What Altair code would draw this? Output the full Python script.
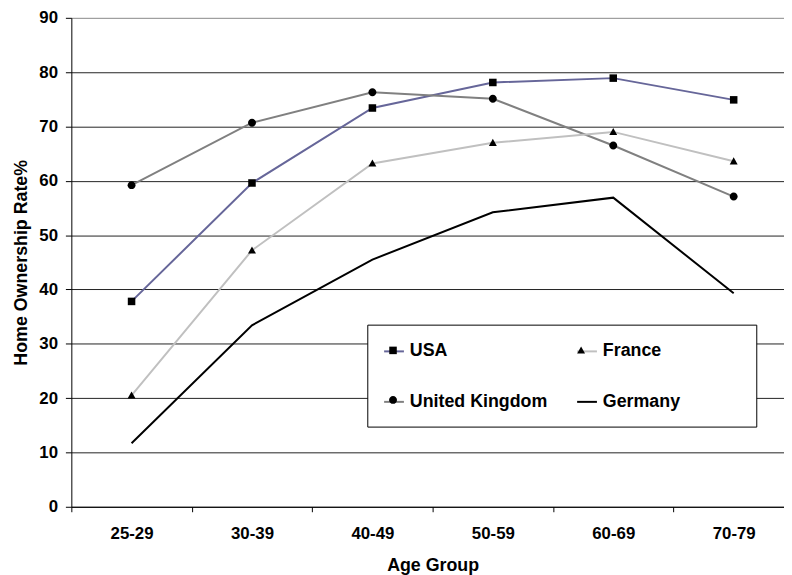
import altair as alt
import pandas as pd

age_groups = ["25-29", "30-39", "40-49", "50-59", "60-69", "70-79"]
countries = ["USA", "United Kingdom", "France", "Germany"]
usa = [37.8, 59.6, 73.4, 78.1, 78.9, 74.9]
france = [20.5, 47.2, 63.2, 67.0, 69.0, 63.6]
uk = [59.2, 70.7, 76.3, 75.1, 66.5, 57.1]
germany = [11.7, 33.4, 45.5, 54.2, 56.9, 39.3]
y_ticks = [0, 10, 20, 30, 40, 50, 60, 70, 80, 90]

line_colors = ["#666699", "#808080", "#C0C0C0", "#000000"]
marker_paths = [
    "M-0.38,-0.38H0.38V0.38H-0.38Z",
    "M-0.4,0A0.4,0.4,0,1,1,0.4,0A0.4,0.4,0,1,1,-0.4,0Z",
    "M0,-0.4L0.4,0.32L-0.4,0.32Z",
    "M0,0L0,0",
]

series = {"USA": usa, "France": france, "United Kingdom": uk, "Germany": germany}
rows = []
for c in countries:
    for a, v in zip(age_groups, series[c]):
        rows.append({"Age": a, "Country": c, "Series": c + " ", "Rate": v})
df = pd.DataFrame(rows)

FONT = "Liberation Sans"
PAD = "\u00a0" * 12 + "\u200b"
label_expr = f"trim(datum.label) == 'Germany' ? 'Germany{PAD}' : trim(datum.label)"

x_enc = alt.X(
    "Age:N",
    sort=age_groups,
    scale=alt.Scale(type="band", domain=age_groups, range=[0, 730], paddingInner=0, paddingOuter=0),
    axis=alt.Axis(
        title="Age Group", tickBand="extent", grid=False, labelAngle=0,
        tickSize=5, labelPadding=14, titlePadding=15,
        domainColor="#000000", tickColor="#000000",
        labelFont=FONT, labelFontSize=17, labelFontWeight="bold", labelColor="#000000",
        titleFont=FONT, titleFontSize=18, titleFontWeight="bold", titleColor="#000000",
    ),
)
y_enc = alt.Y(
    "Rate:Q",
    scale=alt.Scale(domain=[0, 90], nice=False),
    axis=alt.Axis(
        title="Home Ownership Rate%", values=y_ticks, grid=True,
        gridColor={"condition": {"test": "datum.value === 90", "value": "#888888"}, "value": "#222222"},
        gridWidth=1, tickSize=6, labelPadding=8, titlePadding=8,
        domainColor="#000000", tickColor="#000000",
        labelFont=FONT, labelFontSize=17, labelFontWeight="bold", labelColor="#000000",
        titleFont=FONT, titleFontSize=18, titleFontWeight="bold", titleColor="#000000",
    ),
)

legend_common = dict(
    title=None, orient="none", legendX=299, legendY=310, columns=2, gridAlign="all",
    columnPadding=26, rowPadding=31, padding=16, symbolSize=400, labelOffset=5,
    labelFont=FONT, labelFontSize=18, labelFontWeight="bold", labelColor="#000000",
    labelLimit=300, labelExpr=label_expr,
)

lines = alt.Chart(df).mark_line(strokeWidth=2).encode(
    x=x_enc,
    y=y_enc,
    color=alt.Color(
        "Country:N",
        scale=alt.Scale(domain=countries, range=line_colors),
        legend=alt.Legend(
            symbolType="stroke", symbolStrokeWidth=2, fillColor="#ffffff",
            strokeColor="#000000", zindex=0, **legend_common,
        ),
    ),
)

points = alt.Chart(df).mark_point(filled=True, size=400, color="#000000", opacity=1, strokeWidth=0).encode(
    x=x_enc,
    y=y_enc,
    shape=alt.Shape(
        "Series:N",
        scale=alt.Scale(domain=[c + " " for c in countries], range=marker_paths),
        legend=alt.Legend(
            symbolFillColor="#000000", symbolStrokeWidth=0, labelOpacity=0,
            zindex=1, **legend_common,
        ),
    ),
)

chart = alt.layer(lines, points).properties(
    width=720,
    height=494,
    autosize=alt.AutoSizeParams(type="none"),
    padding={"left": 64, "top": 7, "right": 0, "bottom": 66},
    background="#ffffff",
).configure_view(strokeOpacity=0)

chart.save("out.html", embed_options={"renderer": "svg", "actions": False})
